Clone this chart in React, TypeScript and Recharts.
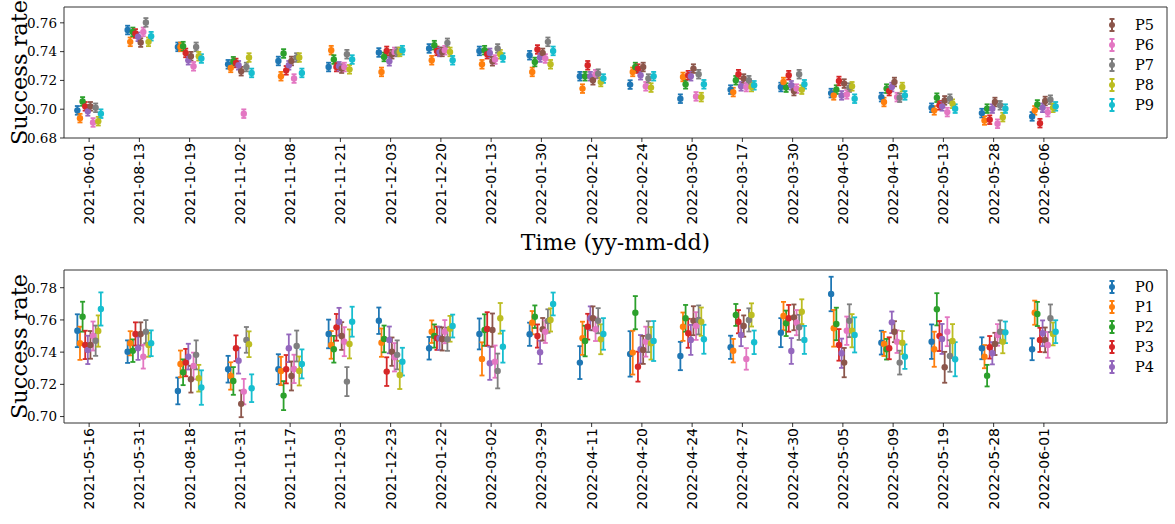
import React from 'react';
import { ScatterChart, Scatter, XAxis, YAxis, ErrorBar, ReferenceArea, Legend } from 'recharts';

const COLORS = ['#1f77b4', '#ff7f0e', '#2ca02c', '#d62728', '#9467bd', '#8c564b', '#e377c2', '#7f7f7f', '#bcbd22', '#17becf'];
const NAMES = ['P0', 'P1', 'P2', 'P3', 'P4', 'P5', 'P6', 'P7', 'P8', 'P9'];

const topDates = ['2021-06-01', '2021-08-13', '2021-10-19', '2021-11-02', '2021-11-08', '2021-11-21', '2021-12-03', '2021-12-20', '2022-01-13', '2022-01-30', '2022-02-12', '2022-02-24', '2022-03-05', '2022-03-17', '2022-03-30', '2022-04-05', '2022-04-19', '2022-05-13', '2022-05-28', '2022-06-06'];
const bottomDates = ['2021-05-16', '2021-05-31', '2021-08-18', '2021-10-31', '2021-11-17', '2021-12-03', '2021-12-23', '2022-01-22', '2022-03-02', '2022-03-29', '2022-04-11', '2022-04-20', '2022-04-24', '2022-04-27', '2022-04-30', '2022-05-05', '2022-05-09', '2022-05-19', '2022-05-28', '2022-06-01'];

const topTicks = [0.68, 0.70, 0.72, 0.74, 0.76];
const bottomTicks = [0.70, 0.72, 0.74, 0.76, 0.78];

// Top panel values (success rate per date) for P0..P9
const topP0 = [0.6992, 0.755, 0.7433, 0.7312, 0.7335, 0.7293, 0.7394, 0.7422, 0.7405, 0.7375, 0.7229, 0.7171, 0.7073, 0.7136, 0.7154, 0.7112, 0.7084, 0.701, 0.6973, 0.695];
const topP1 = [0.6938, 0.7468, 0.7433, 0.7287, 0.7229, 0.741, 0.7259, 0.734, 0.7312, 0.7259, 0.7143, 0.7259, 0.7224, 0.7119, 0.7189, 0.7096, 0.705, 0.6992, 0.6922, 0.6992];
const topP2 = [0.7054, 0.7537, 0.7438, 0.7333, 0.7387, 0.7345, 0.7363, 0.7445, 0.741, 0.7328, 0.7229, 0.7293, 0.7173, 0.7201, 0.715, 0.7136, 0.7143, 0.708, 0.7004, 0.7033];
const topP3 = [0.702, 0.7526, 0.7391, 0.7321, 0.727, 0.7293, 0.7405, 0.7405, 0.7382, 0.7415, 0.7305, 0.7282, 0.7236, 0.7243, 0.7236, 0.7196, 0.7126, 0.7027, 0.6927, 0.6903];
const topP4 = [0.6985, 0.7503, 0.734, 0.7305, 0.7305, 0.7298, 0.7333, 0.7398, 0.7391, 0.7359, 0.7229, 0.7236, 0.7229, 0.7159, 0.7166, 0.7096, 0.7154, 0.702, 0.7004, 0.701];
const topP5 = [0.702, 0.7463, 0.7368, 0.7264, 0.7335, 0.7282, 0.7382, 0.7398, 0.7333, 0.7391, 0.7201, 0.7293, 0.7282, 0.7213, 0.7126, 0.7178, 0.7189, 0.7061, 0.705, 0.7057];
const topP6 = [0.6908, 0.7537, 0.7298, 0.6969, 0.7213, 0.7293, 0.7398, 0.741, 0.7345, 0.7352, 0.7243, 0.7159, 0.7089, 0.7154, 0.7143, 0.7103, 0.7084, 0.698, 0.6899, 0.698];
const topP7 = [0.701, 0.7603, 0.7433, 0.7293, 0.7359, 0.7382, 0.7398, 0.7461, 0.7422, 0.7468, 0.7247, 0.7213, 0.7243, 0.7201, 0.7243, 0.715, 0.708, 0.7073, 0.7027, 0.7066];
const topP8 = [0.6917, 0.7468, 0.7368, 0.7359, 0.7359, 0.7277, 0.7398, 0.7398, 0.7382, 0.7312, 0.7189, 0.715, 0.7084, 0.7154, 0.7136, 0.7159, 0.7154, 0.7038, 0.6945, 0.701];
const topP9 = [0.6969, 0.7507, 0.7352, 0.7252, 0.7252, 0.7345, 0.741, 0.734, 0.7359, 0.7405, 0.7213, 0.7229, 0.7173, 0.7166, 0.7173, 0.7073, 0.7096, 0.7004, 0.7004, 0.702];
const TOP_ERR = 0.003;

// Bottom panel values and error half-widths for P0..P9
const botP0 = [0.7533, 0.7403, 0.7159, 0.7294, 0.7294, 0.7513, 0.7595, 0.7424, 0.7513, 0.7511, 0.7335, 0.7389, 0.7376, 0.743, 0.7521, 0.7761, 0.7459, 0.7465, 0.7424, 0.7418];
const botP0Err = [0.0102, 0.007, 0.0083, 0.0083, 0.0093, 0.0089, 0.0082, 0.007, 0.0096, 0.0072, 0.0102, 0.0141, 0.0088, 0.0072, 0.009, 0.0107, 0.0074, 0.0107, 0.0068, 0.0068];
const botP1 = [0.7455, 0.7455, 0.7327, 0.7252, 0.7283, 0.7445, 0.7459, 0.7527, 0.7358, 0.7583, 0.7486, 0.7397, 0.7558, 0.7409, 0.7624, 0.7548, 0.7451, 0.7418, 0.7372, 0.7645];
const botP1Err = [0.0103, 0.0075, 0.0083, 0.0085, 0.0088, 0.0086, 0.0088, 0.007, 0.0103, 0.0072, 0.0103, 0.0136, 0.0088, 0.0073, 0.0088, 0.0114, 0.0075, 0.0109, 0.0072, 0.0075];
const botP2 = [0.762, 0.7409, 0.7275, 0.7221, 0.713, 0.7418, 0.7482, 0.75, 0.7537, 0.762, 0.7469, 0.7645, 0.761, 0.7631, 0.7579, 0.7575, 0.7418, 0.7666, 0.7254, 0.7637];
const botP2Err = [0.0093, 0.007, 0.008, 0.0086, 0.009, 0.0083, 0.0083, 0.0072, 0.0098, 0.007, 0.0095, 0.0103, 0.0083, 0.0068, 0.0079, 0.0101, 0.0064, 0.01, 0.0067, 0.0075];
const botP3 = [0.7445, 0.7513, 0.7335, 0.7424, 0.7294, 0.7554, 0.7279, 0.7486, 0.7544, 0.75, 0.7558, 0.731, 0.7517, 0.7589, 0.761, 0.7445, 0.7424, 0.75, 0.743, 0.7476];
const botP3Err = [0.0088, 0.0072, 0.0085, 0.008, 0.0088, 0.0083, 0.0089, 0.0072, 0.0104, 0.0072, 0.008, 0.0093, 0.009, 0.0072, 0.0083, 0.0098, 0.0068, 0.0093, 0.007, 0.0075];
const botP4 = [0.7414, 0.7424, 0.7372, 0.7347, 0.7424, 0.7589, 0.7476, 0.7486, 0.7331, 0.7399, 0.761, 0.7418, 0.7476, 0.7507, 0.7407, 0.7393, 0.7585, 0.7482, 0.7393, 0.7517];
const botP4Err = [0.0088, 0.0072, 0.008, 0.008, 0.0086, 0.0086, 0.0083, 0.0072, 0.0103, 0.0072, 0.0074, 0.0088, 0.0093, 0.007, 0.008, 0.0091, 0.0067, 0.0093, 0.0069, 0.008];
const botP5 = [0.7445, 0.7513, 0.7232, 0.7079, 0.7252, 0.75, 0.7403, 0.7482, 0.7537, 0.7542, 0.761, 0.7414, 0.7595, 0.7562, 0.7616, 0.7335, 0.7527, 0.7306, 0.7451, 0.7476];
const botP5Err = [0.0086, 0.0072, 0.0083, 0.0083, 0.009, 0.0086, 0.0088, 0.0072, 0.0103, 0.007, 0.0074, 0.0087, 0.009, 0.0066, 0.008, 0.0091, 0.0065, 0.0096, 0.0069, 0.0077];
const botP6 = [0.75, 0.7372, 0.7314, 0.7155, 0.7296, 0.7465, 0.7368, 0.7527, 0.7341, 0.7527, 0.7542, 0.7465, 0.7562, 0.7358, 0.7583, 0.7533, 0.7465, 0.7527, 0.7507, 0.7445];
const botP6Err = [0.009, 0.0074, 0.0083, 0.0079, 0.0088, 0.009, 0.0088, 0.0072, 0.01, 0.007, 0.0073, 0.0093, 0.0086, 0.0067, 0.0078, 0.0088, 0.007, 0.009, 0.0067, 0.008];
const botP7 = [0.7471, 0.7527, 0.7383, 0.7476, 0.7438, 0.7217, 0.7383, 0.748, 0.7283, 0.7593, 0.7595, 0.7496, 0.76, 0.76, 0.7554, 0.7595, 0.7335, 0.7376, 0.7527, 0.761];
const botP7Err = [0.0094, 0.0072, 0.009, 0.008, 0.0096, 0.009, 0.009, 0.0072, 0.0108, 0.0073, 0.0078, 0.0096, 0.009, 0.0072, 0.0078, 0.0102, 0.0074, 0.0098, 0.007, 0.0086];
const botP8 = [0.7531, 0.7445, 0.7238, 0.7449, 0.7283, 0.7451, 0.7258, 0.7545, 0.761, 0.76, 0.748, 0.7455, 0.7589, 0.7631, 0.7651, 0.7533, 0.7459, 0.7469, 0.7465, 0.7513];
const botP8Err = [0.0097, 0.0074, 0.0083, 0.008, 0.009, 0.009, 0.0087, 0.008, 0.0095, 0.0072, 0.0093, 0.0101, 0.0088, 0.0072, 0.0077, 0.0103, 0.0072, 0.0105, 0.0072, 0.0071];
const botP9 = [0.7668, 0.7455, 0.718, 0.7176, 0.7327, 0.7589, 0.7341, 0.7562, 0.7434, 0.7699, 0.7513, 0.7469, 0.748, 0.7461, 0.7476, 0.7507, 0.7372, 0.7356, 0.7523, 0.7527];
const botP9Err = [0.0103, 0.008, 0.0107, 0.0086, 0.009, 0.0093, 0.0086, 0.0071, 0.0099, 0.0071, 0.0098, 0.0124, 0.009, 0.0073, 0.0087, 0.0109, 0.0076, 0.0106, 0.0067, 0.0071];

const topSeries = [topP0, topP1, topP2, topP3, topP4, topP5, topP6, topP7, topP8, topP9];
const botSeries = [botP0, botP1, botP2, botP3, botP4, botP5, botP6, botP7, botP8, botP9];
const botErrs = [botP0Err, botP1Err, botP2Err, botP3Err, botP4Err, botP5Err, botP6Err, botP7Err, botP8Err, botP9Err];

const X_DOMAIN: [number, number] = [-0.5, 21.45];
const GROUP_STEP = 0.052;
const catTicks = topDates.map((_, i) => i);

const serif = "'DejaVu Serif', serif";
const sans = "'DejaVu Sans', sans-serif";

function buildData(vals: number[], errs: (number[] | number), k: number) {
  return vals.map((v, i) => ({
    x: i + (k - 4.5) * GROUP_STEP,
    y: v,
    e: Array.isArray(errs) ? errs[i] : errs,
  }));
}

const makeXTick = (dates: string[]) => (props: any) => {
  const { x, y, payload } = props;
  return (
    <text
      transform={`translate(${x},${y - 1}) rotate(-90)`}
      textAnchor="end"
      dy="0.36em"
      fontFamily={sans}
      fontSize={14}
      fill="#000"
    >
      {dates[payload.value]}
    </text>
  );
};

const makeLegend = (idx: number[]) => () => (
  <div>
    {idx.map((k) => (
      <div key={k} style={{ display: 'flex', alignItems: 'center', height: 20 }}>
        <svg width={14} height={20} style={{ display: 'block' }}>
          <line x1={7} x2={7} y1={4} y2={16} stroke={COLORS[k]} strokeWidth={2} />
          <line x1={4.5} x2={9.5} y1={4} y2={4} stroke={COLORS[k]} strokeWidth={2} />
          <line x1={4.5} x2={9.5} y1={16} y2={16} stroke={COLORS[k]} strokeWidth={2} />
          <circle cx={7} cy={10} r={3} fill={COLORS[k]} />
        </svg>
        <span style={{ marginLeft: 16, fontFamily: serif, fontSize: 14.5, color: '#000', lineHeight: '20px' }}>{NAMES[k]}</span>
      </div>
    ))}
  </div>
);

type PanelProps = {
  dates: string[];
  series: number[][];
  errs: (number[] | number)[];
  yDomain: [number, number];
  yTicks: number[];
  legendIdx: number[];
  marginTop: number;
  xAxisHeight: number;
  legendTop: number;
  xLabel?: string;
};

function Panel(p: PanelProps) {
  const W = 1175;
  const H = 262;
  return (
    <ScatterChart width={W} height={H} margin={{ top: p.marginTop, right: 8, bottom: 0, left: 0 }}>
      <XAxis
        type="number"
        dataKey="x"
        domain={X_DOMAIN}
        ticks={catTicks}
        allowDataOverflow
        interval={0}
        height={p.xAxisHeight}
        axisLine={false}
        tickLine={{ stroke: '#000', strokeWidth: 0.8 }}
        tickSize={4}
        tick={makeXTick(p.dates)}
        label={
          p.xLabel
            ? {
                content: (lp: any) => {
                  const vb = lp.viewBox || {};
                  return (
                    <text x={vb.x + vb.width / 2} y={vb.y + 112} textAnchor="middle" fontFamily={serif} fontSize={22} fill="#000">
                      {p.xLabel}
                    </text>
                  );
                },
              }
            : undefined
        }
      />
      <YAxis
        type="number"
        dataKey="y"
        domain={p.yDomain}
        ticks={p.yTicks}
        allowDataOverflow
        width={64}
        axisLine={false}
        tickLine={{ stroke: '#000', strokeWidth: 0.8 }}
        tickSize={4}
        tickMargin={3}
        tickFormatter={(v: number) => v.toFixed(2)}
        tick={{ fontFamily: serif, fontSize: 13.5, fill: '#000' }}
        label={{
          content: (lp: any) => {
            const vb = lp.viewBox || {};
            const cx = 27;
            const cy = vb.y + vb.height / 2;
            return (
              <text x={cx} y={cy} transform={`rotate(-90, ${cx}, ${cy})`} textAnchor="middle" fontFamily={serif} fontSize={22.5} fill="#000">
                Success rate
              </text>
            );
          },
        }}
      />
      <ReferenceArea
        x1={X_DOMAIN[0]}
        x2={X_DOMAIN[1]}
        y1={p.yDomain[0]}
        y2={p.yDomain[1]}
        fill="none"
        fillOpacity={0}
        stroke="#333"
        strokeWidth={1}
        ifOverflow="visible"
      />
      {p.series.map((vals, k) => (
        <Scatter
          key={NAMES[k]}
          name={NAMES[k]}
          data={buildData(vals, p.errs[k], k)}
          fill={COLORS[k]}
          isAnimationActive={false}
          shape={(sp: any) => <circle cx={sp.cx} cy={sp.cy} r={3.2} fill={COLORS[k]} />}
        >
          <ErrorBar dataKey="e" direction="y" width={2.5} strokeWidth={1.8} stroke={COLORS[k]} isAnimationActive={false} />
        </Scatter>
      ))}
      <Legend
        layout="vertical"
        align="center"
        verticalAlign="middle"
        content={makeLegend(p.legendIdx)}
        wrapperStyle={{ position: 'absolute', left: 1105, top: p.legendTop, width: 60, height: 100 }}
      />
    </ScatterChart>
  );
}

export default function App() {
  return (
    <div style={{ position: 'absolute', left: 0, top: 0, width: 1175, height: 524, background: '#fff' }}>
      <div style={{ position: 'absolute', left: 0, top: 0 }}>
        <Panel
          dates={topDates}
          series={topSeries}
          errs={topSeries.map(() => TOP_ERR)}
          yDomain={[0.68, 0.771]}
          yTicks={topTicks}
          legendIdx={[5, 6, 7, 8, 9]}
          marginTop={7}
          xAxisHeight={124}
          legendTop={15}
          xLabel="Time (yy-mm-dd)"
        />
      </div>
      <div style={{ position: 'absolute', left: 0, top: 262 }}>
        <Panel
          dates={bottomDates}
          series={botSeries}
          errs={botErrs}
          yDomain={[0.696, 0.791]}
          yTicks={bottomTicks}
          legendIdx={[0, 1, 2, 3, 4]}
          marginTop={8}
          xAxisHeight={101}
          legendTop={15}
        />
      </div>
    </div>
  );
}
